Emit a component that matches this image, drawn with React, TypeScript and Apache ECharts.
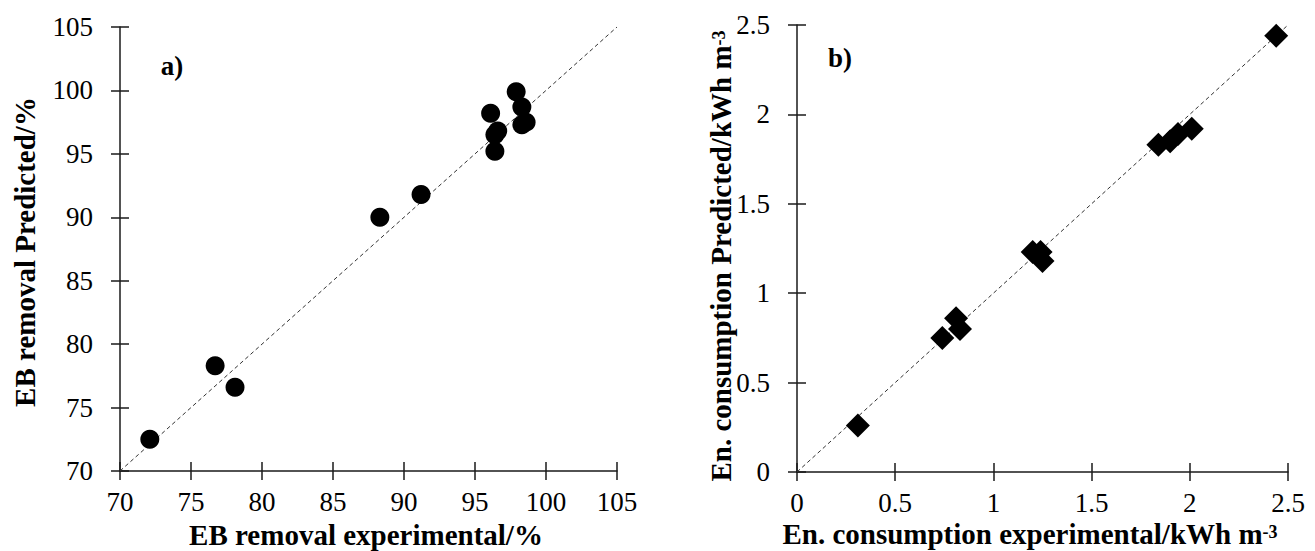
import React, { useEffect, useRef } from "react";
import * as echarts from "echarts";

// ---- data ----
const ebExperimental = [72.1, 76.7, 78.1, 88.3, 91.2, 96.1, 96.4, 96.6, 96.4, 97.9, 98.3, 98.3, 98.6];
const ebPredicted = [72.5, 78.3, 76.6, 90.0, 91.8, 98.2, 96.5, 96.8, 95.2, 99.9, 98.7, 97.3, 97.5];

const enExperimental = [0.31, 0.74, 0.81, 0.83, 1.2, 1.24, 1.25, 1.84, 1.9, 1.94, 2.01, 2.44];
const enPredicted = [0.26, 0.75, 0.86, 0.8, 1.23, 1.23, 1.18, 1.83, 1.85, 1.89, 1.92, 2.44];

const ebRange = [70, 105, 5];
const enRange = [0, 2.5, 0.5];

const FONT = "Liberation Serif";
const INK = "#1a1a1a";

function makeAxis(gridIndex: number, range: number[], isX: boolean, inside: boolean) {
  const [min, max, interval] = range;
  return {
    type: "value",
    gridIndex,
    position: isX ? "bottom" : "left",
    min,
    max,
    interval,
    splitLine: { show: false },
    axisLine: { show: !inside, onZero: false, lineStyle: { color: INK, width: 1.5 } },
    axisTick: { show: true, inside, length: 9, lineStyle: { color: INK, width: 1.5 } },
    axisLabel: {
      show: !inside,
      margin: isX ? 21 : 27,
      color: "#000",
      fontFamily: FONT,
      fontSize: 27,
      lineHeight: 20,
    },
  };
}

export default function App() {
  const ref = useRef<HTMLDivElement>(null);

  useEffect(() => {
    if (!ref.current) return;
    const chart = echarts.init(ref.current, undefined, { renderer: "svg" });

    const ebPoints = ebExperimental.map((x, i) => [x, ebPredicted[i]]);
    const enPoints = enExperimental.map((x, i) => [x, enPredicted[i]]);

    const titleStyle = (text: string) => ({
      text,
      rich: {
        m: { fontFamily: FONT, fontSize: 29, fontWeight: "bold", fill: "#000", lineHeight: 22 },
        s: { fontFamily: FONT, fontSize: 18, fontWeight: "bold", fill: "#000", lineHeight: 12, verticalAlign: "top" },
      },
      fontFamily: FONT,
      fontSize: 29,
      fontWeight: "bold",
      fill: "#000",
      textAlign: "center",
      textVerticalAlign: "middle",
      align: "center",
      verticalAlign: "middle",
    });

    const panelLabel = (text: string) => ({
      text,
      fontFamily: FONT,
      fontSize: 27,
      fontWeight: "bold",
      fill: "#000",
      textAlign: "center",
      textVerticalAlign: "middle",
      align: "center",
      verticalAlign: "middle",
    });

    chart.setOption({
      animation: false,
      backgroundColor: "#fff",
      grid: [
        { left: 120, right: 698, top: 27, bottom: 80 },
        { left: 797, right: 27, top: 25, bottom: 79 },
      ],
      xAxis: [
        makeAxis(0, ebRange, true, false),
        makeAxis(1, enRange, true, false),
        makeAxis(0, ebRange, true, true),
        makeAxis(1, enRange, true, true),
      ],
      yAxis: [
        makeAxis(0, ebRange, false, false),
        makeAxis(1, enRange, false, false),
        makeAxis(0, ebRange, false, true),
        makeAxis(1, enRange, false, true),
      ],
      series: [
        {
          type: "line",
          xAxisIndex: 0,
          yAxisIndex: 0,
          data: [
            [ebRange[0], ebRange[0]],
            [ebRange[1], ebRange[1]],
          ],
          symbol: "none",
          lineStyle: { color: "#333", width: 1, type: [4, 3] },
          z: 1,
          silent: true,
        },
        {
          type: "line",
          xAxisIndex: 1,
          yAxisIndex: 1,
          data: [
            [enRange[0], enRange[0]],
            [enRange[1], enRange[1]],
          ],
          symbol: "none",
          lineStyle: { color: "#333", width: 1, type: [4, 3] },
          z: 1,
          silent: true,
        },
        {
          type: "scatter",
          xAxisIndex: 0,
          yAxisIndex: 0,
          data: ebPoints,
          symbol: "circle",
          symbolSize: 19,
          itemStyle: { color: "#000", opacity: 1 },
          z: 3,
        },
        {
          type: "scatter",
          xAxisIndex: 1,
          yAxisIndex: 1,
          data: enPoints,
          symbol: "diamond",
          symbolSize: 24,
          itemStyle: { color: "#000", opacity: 1 },
          z: 3,
        },
      ],
      graphic: [
        { type: "text", x: 366, y: 535, style: titleStyle("{m|EB removal experimental/%}") },
        { type: "text", x: 25, y: 252, rotation: Math.PI / 2, style: titleStyle("{m|EB removal Predicted/%}") },
        { type: "text", x: 1030, y: 534, style: titleStyle("{m|En. consumption experimental/kWh m}{s|-3}") },
        {
          type: "text",
          x: 721,
          y: 256,
          rotation: Math.PI / 2,
          style: titleStyle("{m|En. consumption Predicted/kWh m}{s|-3}"),
        },
        { type: "text", x: 172, y: 66, style: panelLabel("a)") },
        { type: "text", x: 840, y: 58, style: panelLabel("b)") },
      ],
    });

    return () => chart.dispose();
  }, []);

  return (
    <div
      ref={ref}
      style={{ position: "fixed", left: 0, top: 0, width: 1315, height: 551, background: "#fff" }}
    />
  );
}
